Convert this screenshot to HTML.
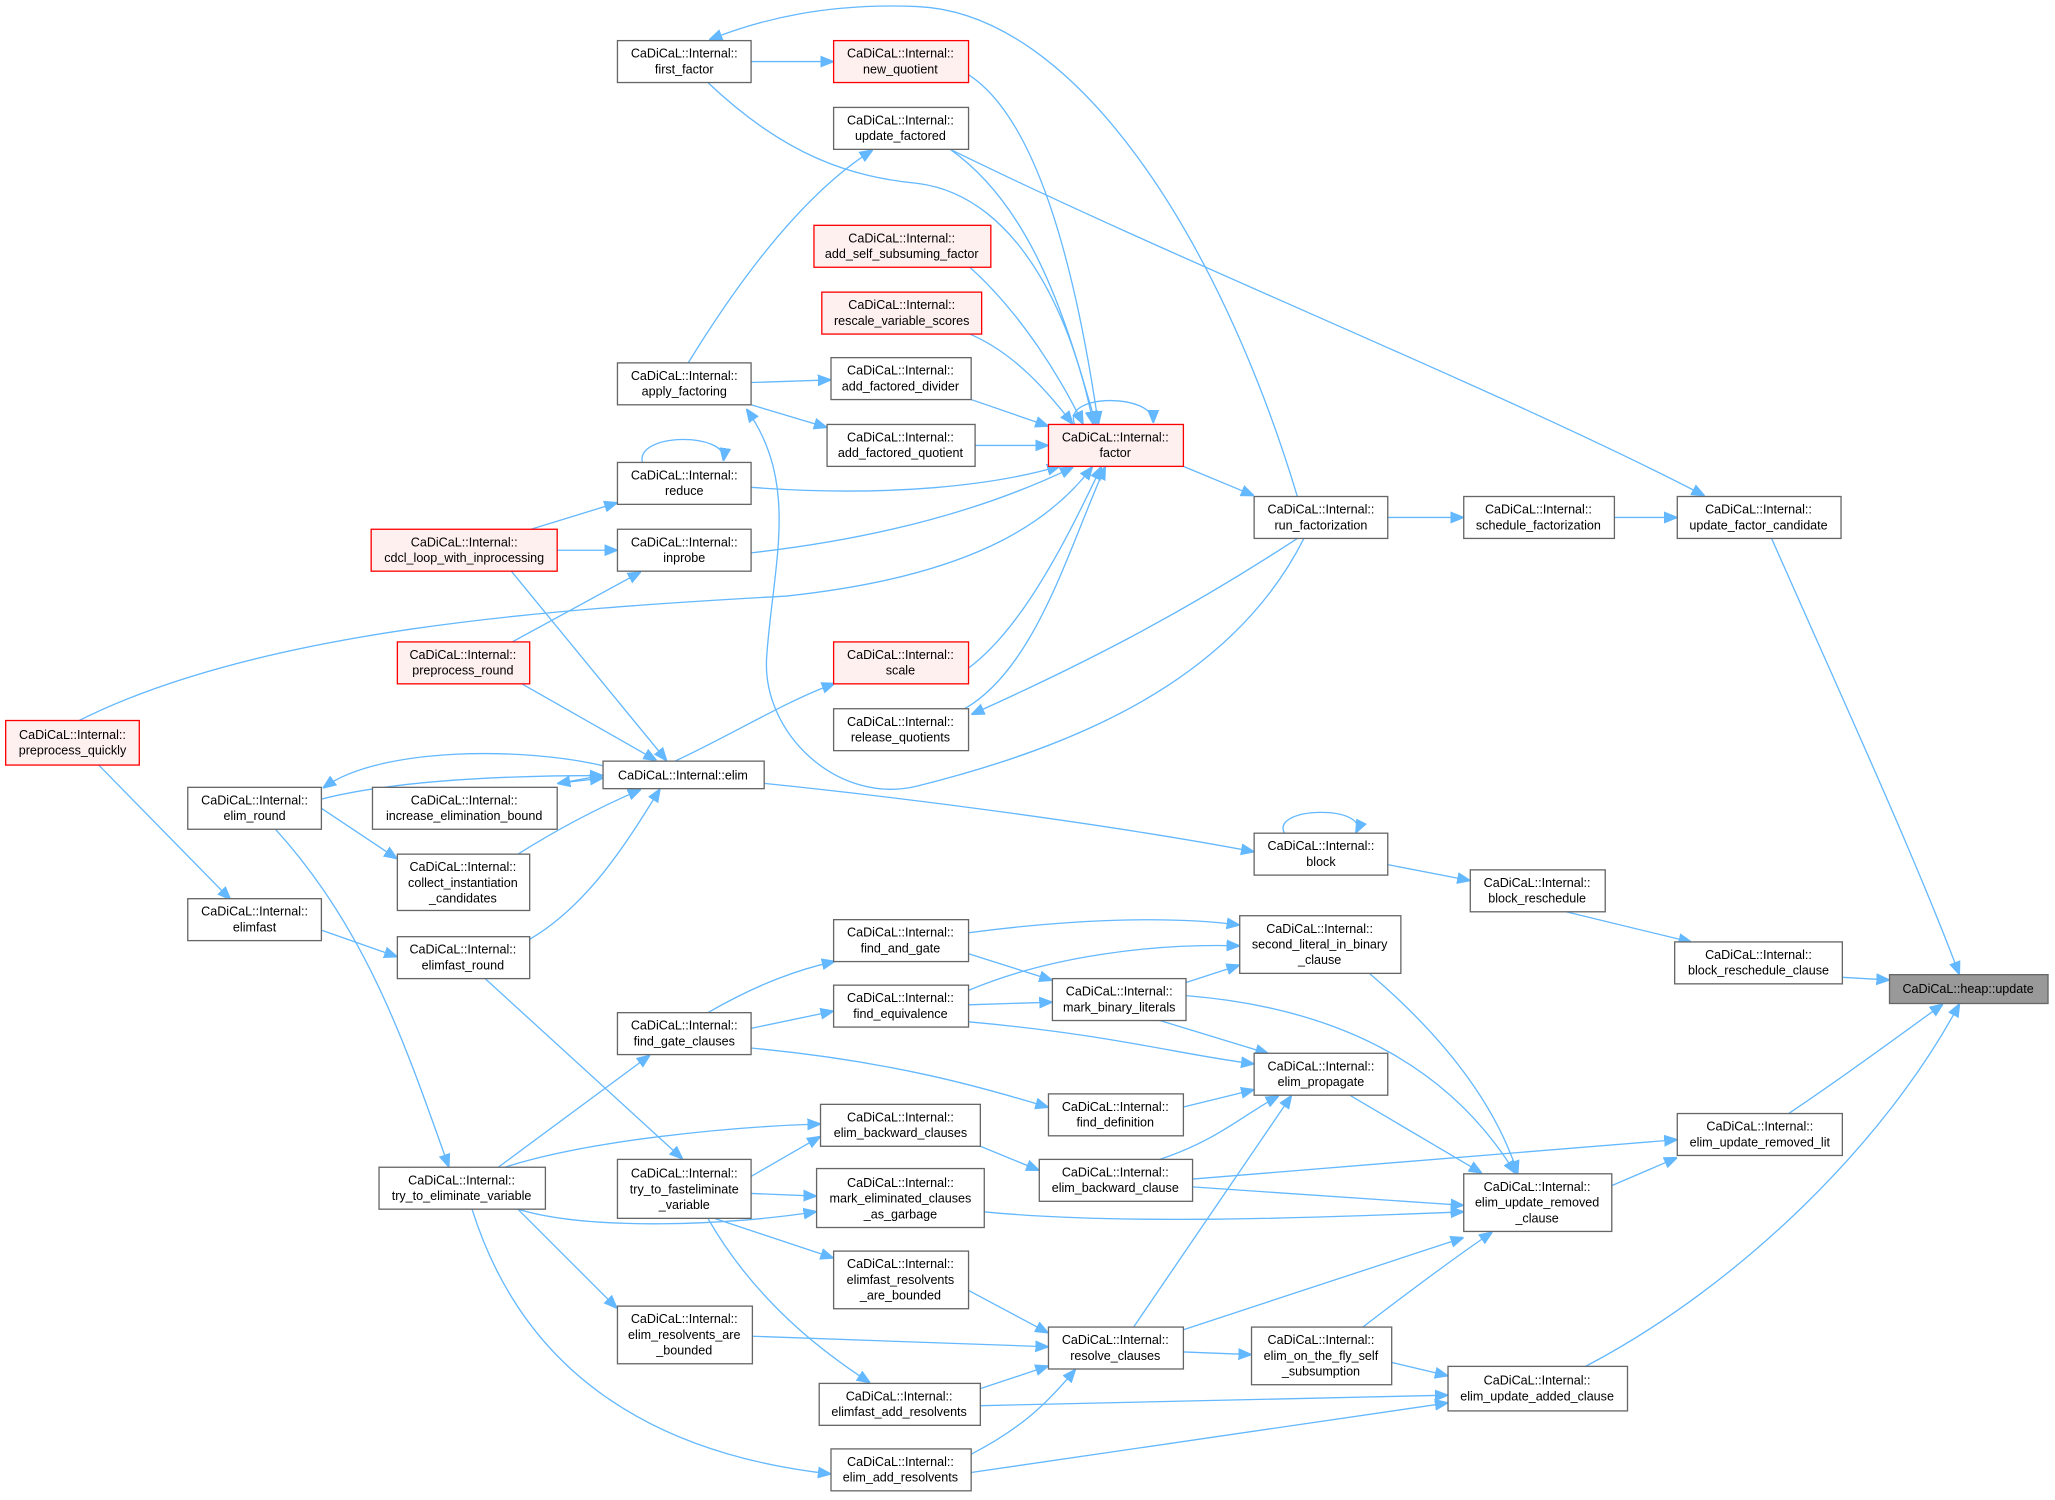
<!DOCTYPE html>
<html><head><meta charset="utf-8"><style>
html,body{margin:0;padding:0;background:#fff;width:2055px;height:1500px;overflow:hidden}
svg{display:block}
text{font-family:"Liberation Sans",sans-serif;font-size:9.6px;fill:#000;text-anchor:middle}
.n{fill:#fff;stroke:#666;stroke-width:1}
.r{fill:#fff0f0;stroke:#f00;stroke-width:1}
.g{fill:#999;stroke:#666;stroke-width:1}
path.e{fill:none;stroke:#63b8ff;stroke-width:1;marker-end:url(#a)}
</style></head><body>
<svg width="2055" height="1500" viewBox="0 0 1568 1145" xmlns="http://www.w3.org/2000/svg">
<defs><marker id="a" viewBox="0 0 10 10" refX="9" refY="5" markerWidth="10" markerHeight="10" markerUnits="userSpaceOnUse" orient="auto"><path d="M0,1 L10,5 L0,9 z" fill="#63b8ff" stroke="#63b8ff"/></marker></defs>

<!-- edges -->
<path class="e" d="M1352,411 C1400,520 1460,650 1495,743"/>
<path class="e" d="M1406,746 L1441,748"/>
<path class="e" d="M1365,850 C1410,820 1450,790 1482,767"/>
<path class="e" d="M1210,1043 C1330,980 1440,870 1495,767"/>
<path class="e" d="M1232,395 L1279,395"/>
<path class="e" d="M725,114 C900,200 1150,300 1300,378"/>
<path class="e" d="M1059,395 L1116,395"/>
<path class="e" d="M903,356 L956,378"/>
<path class="e" d="M990,379 C930,180 820,10 700,5 C630,2 580,15 542,30"/>
<path class="e" d="M573,47 L635,47"/>
<path class="e" d="M739,57 C790,90 820,200 838,323"/>
<path class="e" d="M540,63 C600,120 650,135 700,140 C780,150 820,250 834,323"/>
<path class="e" d="M725,114 C790,160 815,250 836,323"/>
<path class="e" d="M740,204 C780,240 810,290 826,323"/>
<path class="e" d="M740,255 C775,270 800,300 818,323"/>
<path class="e" d="M741,305 L799,325"/>
<path class="e" d="M744,340 L799,340"/>
<path class="e" d="M573,372 C680,380 760,370 808,356"/>
<path class="e" d="M573,422 C680,410 760,385 818,357"/>
<path class="e" d="M60,550 C200,480 420,465 600,455 C740,440 800,400 833,357"/>
<path class="e" d="M720,521 C770,500 810,420 840,357"/>
<path class="e" d="M736,541 C790,510 815,420 843,357"/>
<path class="e" d="M990,411 C900,470 820,510 742,545"/>
<path class="e" d="M820,324 C810,300 880,300 880,322"/>
<path class="e" d="M573,292 L633,290"/>
<path class="e" d="M573,309 L630,326"/>
<path class="e" d="M525,277 C560,220 610,150 665,115"/>
<path class="e" d="M995,411 C940,520 820,570 700,600 C640,615 580,560 585,500 C590,430 610,370 570,313"/>
<path class="e" d="M490,353 C485,330 555,330 552,351"/>
<path class="e" d="M405,404 L470,384"/>
<path class="e" d="M425,420 L470,420"/>
<path class="e" d="M387,492 L488,437"/>
<!-- elim group -->
<path class="e" d="M245,610 C300,596 380,592 459,592"/>
<path class="e" d="M462,585 C400,570 290,570 247,601"/>
<path class="e" d="M425,598 L459,594"/>
<path class="e" d="M459,592 L426,598"/>
<path class="e" d="M395,652 C430,630 460,615 488,603"/>
<path class="e" d="M245,617 L302,655"/>
<path class="e" d="M404,717 C450,690 480,640 503,603"/>
<path class="e" d="M390,436 L508,580"/>
<path class="e" d="M398,522 L500,580"/>
<path class="e" d="M515,581 C560,560 600,535 636,522"/>
<path class="e" d="M583,598 C700,610 850,630 956,650"/>
<path class="e" d="M980,636 C970,615 1045,615 1035,635"/>
<path class="e" d="M1059,660 L1121,672"/>
<path class="e" d="M1195,696 L1290,719"/>
<path class="e" d="M75,584 L175,686"/>
<path class="e" d="M245,710 L302,730"/>
<path class="e" d="M210,633 C280,710 310,800 342,890"/>
<path class="e" d="M370,747 L520,884"/>
<path class="e" d="M380,891 L495,806"/>
<path class="e" d="M540,773 C580,750 610,740 636,734"/>
<path class="e" d="M573,785 L635,772"/>
<path class="e" d="M573,800 C680,810 750,830 799,845"/>
<path class="e" d="M739,728 L802,748"/>
<path class="e" d="M739,767 L802,765"/>
<path class="e" d="M739,712 C830,700 900,700 945,706"/>
<path class="e" d="M739,756 C800,730 880,720 945,722"/>
<path class="e" d="M905,750 L945,737"/>
<path class="e" d="M885,779 L967,804"/>
<path class="e" d="M739,780 C850,790 900,805 956,812"/>
<path class="e" d="M903,845 L956,832"/>
<path class="e" d="M885,885 C930,870 950,850 975,837"/>
<path class="e" d="M865,1013 L985,837"/>
<path class="e" d="M1045,743 C1100,790 1140,840 1158,895"/>
<path class="e" d="M905,760 C1030,770 1110,820 1156,895"/>
<path class="e" d="M1030,836 L1130,895"/>
<path class="e" d="M910,900 L1279,870"/>
<path class="e" d="M910,906 L1116,920"/>
<path class="e" d="M751,925 C850,935 1000,930 1116,925"/>
<path class="e" d="M1230,905 L1279,884"/>
<path class="e" d="M903,1015 L1116,945"/>
<path class="e" d="M1040,1013 C1070,990 1110,960 1138,941"/>
<path class="e" d="M1062,1040 L1104,1050"/>
<path class="e" d="M903,1032 L954,1034"/>
<path class="e" d="M385,891 C450,870 560,860 625,858"/>
<path class="e" d="M573,898 L625,868"/>
<path class="e" d="M573,911 L622,913"/>
<path class="e" d="M395,923 C450,940 560,935 622,925"/>
<path class="e" d="M545,930 L635,960"/>
<path class="e" d="M395,923 L470,998"/>
<path class="e" d="M540,930 C580,1000 640,1040 663,1055"/>
<path class="e" d="M360,923 C400,1050 500,1110 633,1125"/>
<path class="e" d="M748,875 L792,893"/>
<path class="e" d="M739,985 L799,1017"/>
<path class="e" d="M574,1020 L799,1028"/>
<path class="e" d="M748,1060 L799,1043"/>
<path class="e" d="M741,1110 C780,1090 800,1070 820,1046"/>
<path class="e" d="M748,1073 L1104,1065"/>
<path class="e" d="M741,1124 L1104,1071"/>

<!-- nodes -->
<g>
<rect class="n" x="471" y="31" width="102" height="32"/><text x="522" y="44">CaDiCaL::Internal::</text><text x="522" y="56">first_factor</text>
<rect class="r" x="636" y="31" width="103" height="32"/><text x="687" y="44">CaDiCaL::Internal::</text><text x="687" y="56">new_quotient</text>
<rect class="n" x="636" y="82" width="103" height="32"/><text x="687" y="95">CaDiCaL::Internal::</text><text x="687" y="107">update_factored</text>
<rect class="r" x="621" y="172" width="135" height="32"/><text x="688" y="185">CaDiCaL::Internal::</text><text x="688" y="197">add_self_subsuming_factor</text>
<rect class="r" x="627" y="223" width="122" height="32"/><text x="688" y="236">CaDiCaL::Internal::</text><text x="688" y="248">rescale_variable_scores</text>
<rect class="n" x="471" y="277" width="102" height="32"/><text x="522" y="290">CaDiCaL::Internal::</text><text x="522" y="302">apply_factoring</text>
<rect class="n" x="634" y="273" width="107" height="32"/><text x="687" y="286">CaDiCaL::Internal::</text><text x="687" y="298">add_factored_divider</text>
<rect class="n" x="631" y="324" width="113" height="32"/><text x="687" y="337">CaDiCaL::Internal::</text><text x="687" y="349">add_factored_quotient</text>
<rect class="r" x="800" y="324" width="103" height="32"/><text x="851" y="337">CaDiCaL::Internal::</text><text x="851" y="349">factor</text>
<rect class="n" x="471" y="353" width="102" height="32"/><text x="522" y="366">CaDiCaL::Internal::</text><text x="522" y="378">reduce</text>
<rect class="r" x="283" y="404" width="142" height="32"/><text x="354" y="417">CaDiCaL::Internal::</text><text x="354" y="429">cdcl_loop_with_inprocessing</text>
<rect class="n" x="471" y="404" width="102" height="32"/><text x="522" y="417">CaDiCaL::Internal::</text><text x="522" y="429">inprobe</text>
<rect class="n" x="957" y="379" width="102" height="32"/><text x="1008" y="392">CaDiCaL::Internal::</text><text x="1008" y="404">run_factorization</text>
<rect class="n" x="1117" y="379" width="115" height="32"/><text x="1174" y="392">CaDiCaL::Internal::</text><text x="1174" y="404">schedule_factorization</text>
<rect class="n" x="1280" y="379" width="125" height="32"/><text x="1342" y="392">CaDiCaL::Internal::</text><text x="1342" y="404">update_factor_candidate</text>
<rect class="r" x="303" y="490" width="101" height="32"/><text x="353" y="503">CaDiCaL::Internal::</text><text x="353" y="515">preprocess_round</text>
<rect class="r" x="636" y="490" width="103" height="32"/><text x="687" y="503">CaDiCaL::Internal::</text><text x="687" y="515">scale</text>
<rect class="n" x="636" y="541" width="103" height="32"/><text x="687" y="554">CaDiCaL::Internal::</text><text x="687" y="566">release_quotients</text>
<rect class="r" x="4" y="550" width="102" height="34"/><text x="55" y="564">CaDiCaL::Internal::</text><text x="55" y="576">preprocess_quickly</text>
<rect class="n" x="460" y="581" width="123" height="21"/><text x="521" y="595">CaDiCaL::Internal::elim</text>
<rect class="n" x="143" y="601" width="102" height="32"/><text x="194" y="614">CaDiCaL::Internal::</text><text x="194" y="626">elim_round</text>
<rect class="n" x="284" y="601" width="141" height="32"/><text x="354" y="614">CaDiCaL::Internal::</text><text x="354" y="626">increase_elimination_bound</text>
<rect class="n" x="303" y="652" width="101" height="43"/><text x="353" y="665">CaDiCaL::Internal::</text><text x="353" y="677">collect_instantiation</text><text x="353" y="689">_candidates</text>
<rect class="n" x="957" y="636" width="102" height="32"/><text x="1008" y="649">CaDiCaL::Internal::</text><text x="1008" y="661">block</text>
<rect class="n" x="1122" y="664" width="103" height="32"/><text x="1173" y="677">CaDiCaL::Internal::</text><text x="1173" y="689">block_reschedule</text>
<rect class="n" x="143" y="686" width="102" height="32"/><text x="194" y="699">CaDiCaL::Internal::</text><text x="194" y="711">elimfast</text>
<rect class="n" x="636" y="702" width="103" height="32"/><text x="687" y="715">CaDiCaL::Internal::</text><text x="687" y="727">find_and_gate</text>
<rect class="n" x="946" y="699" width="123" height="44"/><text x="1007" y="712">CaDiCaL::Internal::</text><text x="1007" y="724">second_literal_in_binary</text><text x="1007" y="736">_clause</text>
<rect class="n" x="303" y="715" width="101" height="32"/><text x="353" y="728">CaDiCaL::Internal::</text><text x="353" y="740">elimfast_round</text>
<rect class="n" x="1278" y="719" width="128" height="32"/><text x="1342" y="732">CaDiCaL::Internal::</text><text x="1342" y="744">block_reschedule_clause</text>
<rect class="g" x="1442" y="744" width="121" height="22"/><text x="1502" y="758">CaDiCaL::heap::update</text>
<rect class="n" x="636" y="752" width="103" height="32"/><text x="687" y="765">CaDiCaL::Internal::</text><text x="687" y="777">find_equivalence</text>
<rect class="n" x="803" y="747" width="102" height="32"/><text x="854" y="760">CaDiCaL::Internal::</text><text x="854" y="772">mark_binary_literals</text>
<rect class="n" x="471" y="773" width="102" height="32"/><text x="522" y="786">CaDiCaL::Internal::</text><text x="522" y="798">find_gate_clauses</text>
<rect class="n" x="957" y="804" width="102" height="32"/><text x="1008" y="817">CaDiCaL::Internal::</text><text x="1008" y="829">elim_propagate</text>
<rect class="n" x="800" y="835" width="103" height="32"/><text x="851" y="848">CaDiCaL::Internal::</text><text x="851" y="860">find_definition</text>
<rect class="n" x="626" y="843" width="122" height="32"/><text x="687" y="856">CaDiCaL::Internal::</text><text x="687" y="868">elim_backward_clauses</text>
<rect class="n" x="1280" y="850" width="126" height="32"/><text x="1343" y="863">CaDiCaL::Internal::</text><text x="1343" y="875">elim_update_removed_lit</text>
<rect class="n" x="793" y="885" width="117" height="32"/><text x="851" y="898">CaDiCaL::Internal::</text><text x="851" y="910">elim_backward_clause</text>
<rect class="n" x="289" y="891" width="127" height="32"/><text x="352" y="904">CaDiCaL::Internal::</text><text x="352" y="916">try_to_eliminate_variable</text>
<rect class="n" x="471" y="885" width="102" height="45"/><text x="522" y="899">CaDiCaL::Internal::</text><text x="522" y="911">try_to_fasteliminate</text><text x="522" y="923">_variable</text>
<rect class="n" x="623" y="892" width="128" height="45"/><text x="687" y="906">CaDiCaL::Internal::</text><text x="687" y="918">mark_eliminated_clauses</text><text x="687" y="930">_as_garbage</text>
<rect class="n" x="1117" y="896" width="113" height="44"/><text x="1173" y="909">CaDiCaL::Internal::</text><text x="1173" y="921">elim_update_removed</text><text x="1173" y="933">_clause</text>
<rect class="n" x="636" y="955" width="103" height="44"/><text x="687" y="968">CaDiCaL::Internal::</text><text x="687" y="980">elimfast_resolvents</text><text x="687" y="992">_are_bounded</text>
<rect class="n" x="471" y="997" width="103" height="44"/><text x="522" y="1010">CaDiCaL::Internal::</text><text x="522" y="1022">elim_resolvents_are</text><text x="522" y="1034">_bounded</text>
<rect class="n" x="800" y="1013" width="103" height="32"/><text x="851" y="1026">CaDiCaL::Internal::</text><text x="851" y="1038">resolve_clauses</text>
<rect class="n" x="955" y="1013" width="107" height="44"/><text x="1008" y="1026">CaDiCaL::Internal::</text><text x="1008" y="1038">elim_on_the_fly_self</text><text x="1008" y="1050">_subsumption</text>
<rect class="n" x="1105" y="1043" width="137" height="34"/><text x="1173" y="1057">CaDiCaL::Internal::</text><text x="1173" y="1069">elim_update_added_clause</text>
<rect class="n" x="625" y="1056" width="123" height="32"/><text x="686" y="1069">CaDiCaL::Internal::</text><text x="686" y="1081">elimfast_add_resolvents</text>
<rect class="n" x="634" y="1106" width="107" height="32"/><text x="687" y="1119">CaDiCaL::Internal::</text><text x="687" y="1131">elim_add_resolvents</text>
</g>
</svg>
</body></html>
